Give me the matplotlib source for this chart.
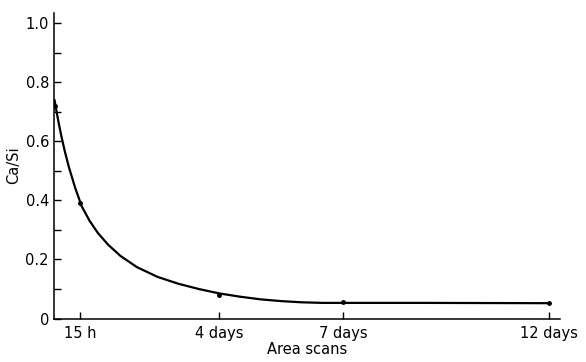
import matplotlib
matplotlib.use("Agg")
import matplotlib.pyplot as plt
from matplotlib.ticker import MultipleLocator, FixedLocator

# Measured Ca/Si ratios from area scans (time in days)
scan_days = [0.02, 0.625, 4.0, 7.0, 12.0]
scan_ratio = [0.72, 0.39, 0.08, 0.055, 0.052]

# Hand-drawn trend curve through the measurements
curve_days = [0.0, 0.05, 0.1, 0.17, 0.25, 0.35, 0.5, 0.66, 0.85, 1.05, 1.3,
              1.6, 2.0, 2.5, 3.0, 3.5, 4.0, 4.5, 5.0, 5.5, 6.0, 6.5, 9.0, 12.0]
curve_ratio = [0.74, 0.70, 0.663, 0.615, 0.566, 0.512, 0.443, 0.38, 0.331,
               0.29, 0.25, 0.212, 0.174, 0.141, 0.118, 0.1, 0.085, 0.074,
               0.065, 0.059, 0.055, 0.053, 0.053, 0.052]

xtick_pos = [0.625, 4, 7, 12]
xtick_labels = ["15 h", "4 days", "7 days", "12 days"]
ytick_pos = [0, 0.2, 0.4, 0.6, 0.8, 1.0]
ytick_labels = ["0", "0.2", "0.4", "0.6", "0.8", "1.0"]

fig = plt.figure(figsize=(5.86, 3.62), dpi=100)
ax = fig.add_axes([0.093, 0.120, 0.863, 0.845])

ax.plot(curve_days, curve_ratio, color="black", lw=1.6,
        solid_capstyle="round", solid_joinstyle="round")
ax.plot(scan_days, scan_ratio, "o", color="black", ms=2.5)

ax.set_xlim(0, 12.27)
ax.set_ylim(0, 1.035)

ax.xaxis.set_major_locator(FixedLocator(xtick_pos))
ax.set_xticklabels(xtick_labels)
ax.yaxis.set_major_locator(FixedLocator(ytick_pos))
ax.set_yticklabels(ytick_labels)
ax.yaxis.set_minor_locator(MultipleLocator(0.1))

for side in ("top", "right"):
    ax.spines[side].set_visible(False)
for side in ("left", "bottom"):
    ax.spines[side].set_linewidth(1.1)

ax.tick_params(axis="both", which="both", direction="in", width=1.0,
               labelsize=10.5, color="black")
ax.tick_params(axis="x", which="major", length=5, pad=5)
ax.tick_params(axis="y", which="major", length=5, pad=4)
ax.tick_params(axis="y", which="minor", length=5)

ax.set_xlabel("Area scans", fontsize=10.5, labelpad=1)
ax.set_ylabel("Ca/Si", fontsize=10.5, labelpad=3)

fig.savefig("out.png", dpi=100)
